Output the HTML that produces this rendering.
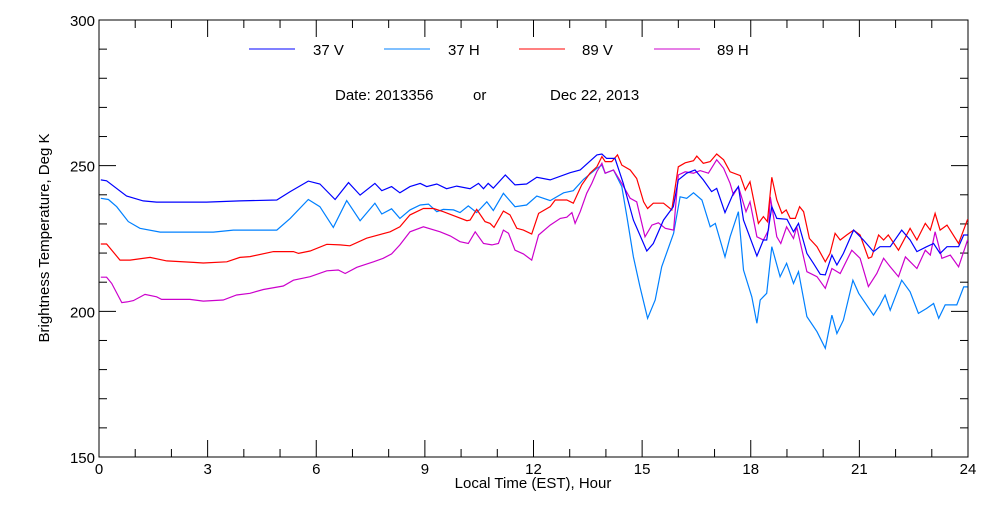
<!DOCTYPE html>
<html><head><meta charset="utf-8"><style>
body{margin:0;background:#fff;}
svg text{font-family:"Liberation Sans",sans-serif;fill:#000;}
</style></head><body>
<svg id="chart" width="1000" height="500" xmlns="http://www.w3.org/2000/svg">
<rect width="1000" height="500" fill="#fff"/>
<g id="axes"></g>
<g id="series"></g>
<g>
<line x1="249" y1="49" x2="295" y2="49" stroke="#0000ff"/><text x="313" y="55" font-size="15">37 V</text>
<line x1="384" y1="49" x2="430" y2="49" stroke="#0080ff"/><text x="448" y="55" font-size="15">37 H</text>
<line x1="519" y1="49" x2="565" y2="49" stroke="#ff0000"/><text x="582" y="55" font-size="15">89 V</text>
<line x1="654" y1="49" x2="700" y2="49" stroke="#cc00cc"/><text x="717" y="55" font-size="15">89 H</text>
</g>
<text x="335" y="100" font-size="15">Date: 2013356</text>
<text x="473" y="100" font-size="15">or</text>
<text x="550" y="100" font-size="15">Dec 22, 2013</text>
<text x="533" y="488" font-size="15" text-anchor="middle">Local Time (EST), Hour</text>
<text transform="translate(49,238) rotate(-90)" font-size="15" text-anchor="middle">Brightness Temperature, Deg K</text>
</svg>
<script>
const xTicks=[0,3,6,9,12,15,18,21,24];
const yTicks=[150,200,250,300];
const t37v=[0.05,0.21,0.76,1.22,1.59,2.97,3.89,4.91,5.28,5.78,6.10,6.52,6.89,7.21,7.62,7.81,8.08,8.31,8.59,8.87,9.05,9.33,9.60,9.88,10.25,10.48,10.62,10.75,10.89,11.22,11.49,11.81,12.09,
12.46,13.01,13.29,13.75,13.89,14.02,14.25,14.48,14.76,15.13,15.31,15.59,15.86,16.00,16.23,16.46,16.69,16.92,17.06,17.29,17.52,17.66,17.80,18.17,18.35,18.44,18.58,18.72,19.00,19.18,19.32,19.55,19.73,19.92,20.06,20.24,20.38,20.56,20.84,21.11,21.39,21.57,21.85,22.17,22.40,22.59,22.86,23.05,23.23,23.42,23.74,23.88,23.99];
const v37v=[245.1,244.8,239.6,237.9,237.5,237.5,237.9,238.2,241.1,244.7,243.7,238.4,244.2,239.9,243.9,241.4,242.8,240.7,242.8,243.9,242.8,243.7,242.1,243.0,242.1,243.9,242.1,243.9,242.3,246.8,243.4,243.7,246.0,
245.1,247.6,248.5,253.7,254.0,252.5,252.5,243.9,231.3,220.7,223.3,231.3,235.9,245.1,247.4,248.5,245.1,241.1,242.2,233.9,240.5,242.8,231.3,219.0,224.5,224.5,235.9,231.9,231.6,227.3,230.2,219.9,216.5,212.7,212.5,219.3,215.9,219.9,227.9,224.5,220.5,222.2,222.2,227.9,224.5,220.5,222.2,223.3,219.9,222.2,222.2,226.2,226.2];
const t37h=[0.05,0.26,0.49,0.81,1.13,1.69,3.16,3.71,4.91,5.28,5.78,6.10,6.47,6.84,7.21,7.62,7.81,8.08,8.31,8.59,8.87,9.10,9.33,9.51,9.79,9.97,10.20,10.43,10.71,10.89,11.17,11.49,11.81,
12.09,12.46,12.83,13.10,13.38,13.75,13.89,13.98,14.21,14.44,14.58,14.76,14.94,15.15,15.36,15.54,15.87,16.05,16.23,16.42,16.65,16.88,17.02,17.29,17.43,17.66,17.80,18.03,18.17,18.26,18.44,18.58,18.81,18.99,19.18,19.32,19.55,19.83,20.06,20.24,20.38,20.56,20.82,20.98,21.39,21.57,21.71,21.85,22.17,22.40,22.63,22.86,23.05,23.19,23.37,23.69,23.88,23.99];
const v37h=[238.8,238.4,235.9,230.8,228.5,227.2,227.2,227.9,227.9,231.9,238.4,235.9,228.8,238.0,231.1,237.1,233.4,235.2,231.9,234.8,236.5,236.8,234.2,235.0,234.8,233.9,236.2,233.9,237.6,234.6,240.5,235.9,236.5,
239.6,238.0,240.7,241.4,245.3,249.1,250.2,247.4,248.5,242.8,232.5,218.7,208.4,197.6,203.9,215.3,226.8,239.3,238.8,240.7,238.2,229.0,230.2,218.7,225.6,234.2,214.2,205.0,195.9,203.9,206.2,222.2,211.9,216.5,209.6,213.6,198.2,193.0,187.3,198.7,192.4,197.0,210.7,206.2,198.7,202.2,205.6,200.4,210.7,206.7,199.3,201.0,202.7,197.6,202.2,202.2,208.4,208.4];
const t89v=[0.05,0.21,0.58,0.86,1.41,1.87,2.61,2.88,3.53,3.89,4.17,4.82,5.37,5.51,5.83,6.29,6.66,6.93,7.39,8.04,8.31,8.59,8.96,9.24,9.51,10.16,10.25,10.43,10.66,10.80,10.91,11.17,11.35,11.54,11.72,11.95,
12.14,12.46,12.60,12.92,13.10,13.33,13.56,13.75,13.89,13.98,14.16,14.32,14.44,14.67,14.85,15.04,15.15,15.31,15.59,15.82,16.00,16.19,16.42,16.51,16.69,16.88,17.06,17.25,17.43,17.71,17.85,17.98,18.21,18.35,18.46,18.58,18.72,18.86,18.98,19.09,19.23,19.35,19.46,19.62,19.83,20.06,20.19,20.33,20.47,20.65,20.84,21.02,21.25,21.34,21.53,21.67,21.80,22.08,22.40,22.59,22.82,22.96,23.09,23.23,23.42,23.74,23.99];
const v89v=[223.1,223.1,217.6,217.6,218.5,217.3,216.8,216.6,217.0,218.5,218.8,220.5,220.5,219.9,220.7,223.0,222.8,222.5,225.1,227.3,229.0,233.1,235.3,235.3,234.2,231.1,231.3,235.0,230.8,230.2,228.8,234.4,233.1,228.5,227.9,226.5,
233.6,235.9,238.2,238.2,237.1,243.4,247.4,249.6,253.1,251.4,251.4,253.7,250.2,248.5,245.6,237.6,235.3,237.1,237.1,234.8,249.6,251.0,251.7,253.3,250.8,251.4,254.0,252.0,247.9,246.6,241.6,244.5,230.2,232.5,230.8,246.0,238.2,233.6,234.8,231.9,231.9,235.9,234.2,225.0,222.2,217.0,219.9,226.8,224.5,226.2,227.9,226.2,218.2,218.7,226.2,224.5,226.2,221.0,228.5,224.5,230.2,227.9,233.6,227.9,229.6,223.3,231.6];
const t89h=[0.05,0.21,0.35,0.63,0.81,0.95,1.27,1.59,1.73,2.51,2.88,3.43,3.80,4.17,4.54,5.09,5.37,5.83,6.29,6.61,6.80,7.12,7.39,7.58,7.85,8.08,8.31,8.59,8.96,9.42,9.70,9.97,10.20,10.39,10.62,10.85,11.03,11.17,11.31,11.49,11.72,11.95,
12.14,12.46,12.74,12.92,13.06,13.15,13.29,13.47,13.61,13.75,13.89,13.98,14.21,14.44,14.67,14.85,15.08,15.27,15.45,15.64,15.87,16.00,16.19,16.42,16.60,16.83,17.06,17.25,17.43,17.52,17.66,17.87,17.98,18.17,18.35,18.49,18.54,18.72,18.83,18.99,19.18,19.27,19.55,19.83,20.06,20.24,20.47,20.79,21.02,21.25,21.48,21.67,21.85,22.08,22.27,22.59,22.82,22.96,23.09,23.28,23.51,23.74,23.99];
const v89h=[211.7,211.7,209.6,203.0,203.3,203.7,205.8,205.0,204.1,204.1,203.5,203.9,205.6,206.2,207.5,208.7,210.7,211.9,213.9,214.2,213.0,215.1,216.2,217.0,218.2,219.7,222.8,227.3,229.0,227.3,225.9,223.9,223.3,227.3,223.3,222.8,223.3,227.9,226.8,221.0,219.7,217.6,
226.2,229.6,231.9,232.3,233.9,230.2,234.2,240.5,243.9,248.0,250.8,247.4,248.5,243.9,238.8,237.6,225.6,229.6,230.4,228.5,227.9,246.8,247.9,247.4,248.3,247.4,252.0,249.1,243.9,240.0,242.8,234.2,237.6,225.6,224.5,227.9,239.3,225.6,223.3,229.0,225.0,229.0,213.6,211.9,207.9,214.7,213.0,221.0,218.2,208.5,213.0,218.2,215.3,211.9,218.7,214.7,221.0,219.3,227.3,218.2,219.3,215.3,224.5];

const X0=99,X1=968,Y0=457,Y1=20;
const xs=h=>X0+(h/24)*(X1-X0);
const ys=v=>Y0-(v-150)/150*(Y0-Y1);
const NS='http://www.w3.org/2000/svg';
const axes=document.getElementById('axes');
function mk(tag,attrs,parent){const e=document.createElementNS(NS,tag);for(const k in attrs)e.setAttribute(k,attrs[k]);parent.appendChild(e);return e;}
const frame=mk('rect',{x:X0,y:Y1,width:X1-X0,height:Y0-Y1,fill:'none',stroke:'#000','stroke-width':1},axes);


for(let h=0;h<=24;h++){
  const major=h%3===0, L=major?17:8, x=xs(h);
  mk('line',{x1:x,y1:Y0,x2:x,y2:Y0-L,stroke:'#000'},axes);
  mk('line',{x1:x,y1:Y1,x2:x,y2:Y1+L,stroke:'#000'},axes);
}
xTicks.forEach(h=>{
  const t=mk('text',{x:xs(h),y:Y0+17,'font-size':15,'text-anchor':'middle'},axes);
  t.textContent=h;
  
  
});
for(let v=150;v<=300;v+=10){
  const major=v%50===0, L=major?17:8, y=ys(v);
  mk('line',{x1:X0,y1:y,x2:X0+L,y2:y,stroke:'#000'},axes);
  mk('line',{x1:X1,y1:y,x2:X1-L,y2:y,stroke:'#000'},axes);
}
yTicks.forEach(v=>{
  const t=mk('text',{x:X0-4,y:ys(v)+6,'font-size':15,'text-anchor':'end'},axes);
  t.textContent=v;
  
  
});
const ser=document.getElementById('series');
function draw(t,v,color,name){
  const n=Math.min(t.length,v.length);let d='';
  for(let i=0;i<n;i++)d+=(i?'L':'M')+xs(t[i]).toFixed(1)+','+ys(v[i]).toFixed(1);
  const p=mk('path',{d:d,fill:'none',stroke:color,'stroke-width':1.2},ser);
  
  
}
draw(t37h,v37h,'#0080ff','line-37h');
draw(t89h,v89h,'#cc00cc','line-89h');
draw(t89v,v89v,'#ff0000','line-89v');
draw(t37v,v37v,'#0000ff','line-37v');
</script>
</body></html>
